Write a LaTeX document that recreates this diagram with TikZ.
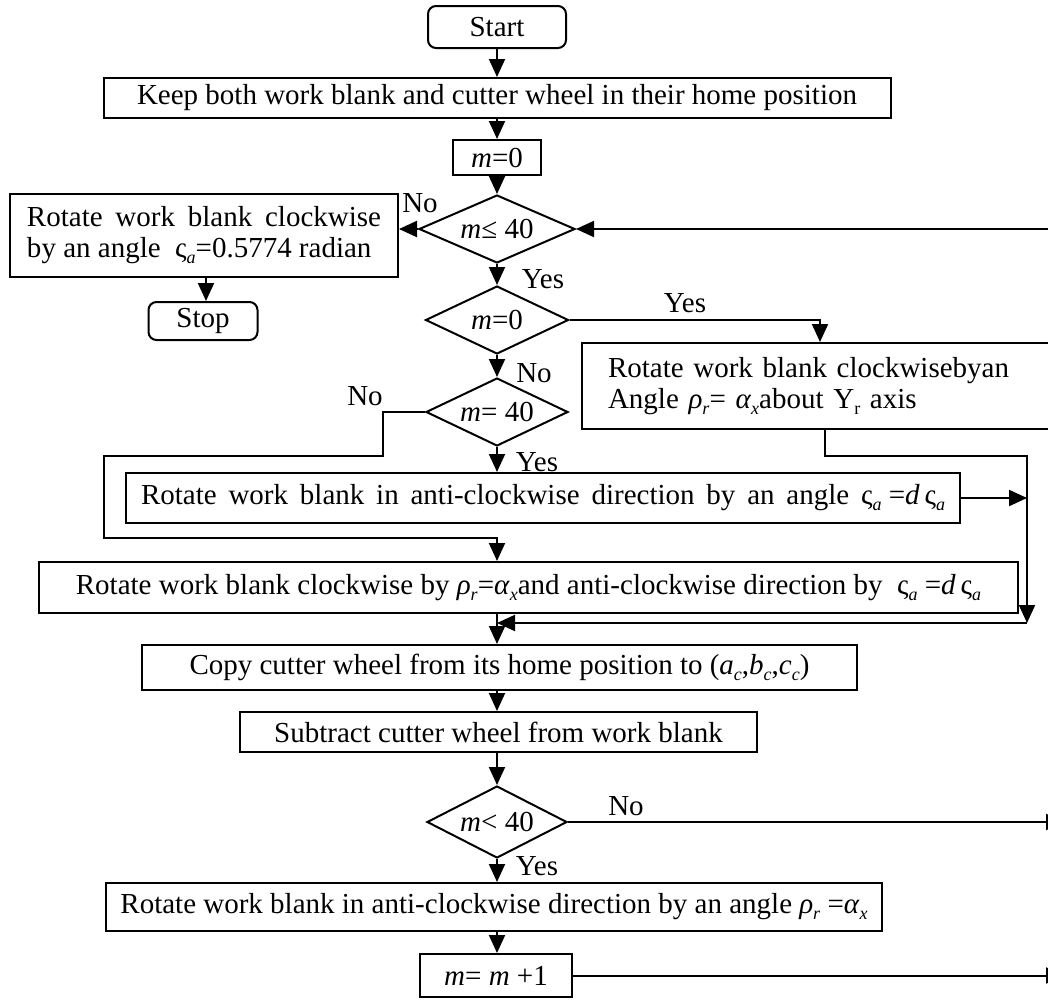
\documentclass[tikz,border=0pt]{standalone}
\usepackage{fontspec}
\setmainfont{Liberation Serif}
\usetikzlibrary{shapes.geometric,arrows.meta,calc}
\newcommand\fsz{\fontsize{29}{31}\selectfont}
\newcommand\lowsub[1]{\raisebox{-0.2em}{\fontsize{18}{18}\selectfont #1}}
\begin{document}
\begin{tikzpicture}[x=1pt,y=-1pt,
  box/.style={draw, line width=2pt, inner sep=0pt, font=\fsz},
  term/.style={box, rounded corners=8pt},
  dec/.style={draw, line width=2pt, diamond, aspect=2.2, inner sep=0pt, font=\fsz},
  arr/.style={line width=2pt, -{Triangle[length=18pt,width=16pt]}},
  lbl/.style={font=\fsz, inner sep=0pt}]
\useasboundingbox (0,0) rectangle (1048,1001);
\clip (0,0) rectangle (1048,1001);

% nodes
\node[term, minimum width=138pt, minimum height=42pt] (start) at (497,27) {Start};
\node[box, minimum width=787pt, minimum height=40pt] (keep) at (497,98) {Keep both work blank and cutter wheel in their home position};
\node[box, minimum width=88pt, minimum height=35pt] (m0) at (497,157.5) {\textit{m}=0};
\node[dec, minimum width=156pt, minimum height=68pt] (d1) at (497,229) {\textit{m}≤ 40};
\node[box, minimum width=388pt, minimum height=83pt, align=left] (left) at (204,235.5)
  {\makebox[354pt][s]{Rotate work blank clockwise}\\by an angle \ ς\lowsub{\textit{a}}=0.5774 radian};
\node[term, minimum width=109pt, minimum height=38pt] (stop) at (203,321) {Stop};
\node[dec, minimum width=143pt, minimum height=68pt] (d2) at (497,320) {\textit{m}=0};
\node[box, anchor=north west, minimum width=490pt, minimum height=86pt, text width=438pt, align=left, inner xsep=26pt] (rbox) at (581,342)
  {Rotate work blank clockwisebyan\\Angle \textit{ρ}\lowsub{\textit{r}}= \textit{α}\lowsub{\textit{x}}about Y\lowsub{r} axis};
\node[dec, minimum width=142pt, minimum height=68pt] (d3) at (497,412) {\textit{m}= 40};
\node[box, minimum width=834pt, minimum height=50pt] (anti) at (543,498)
  {\makebox[804pt][s]{Rotate work blank in anti-clockwise direction by an angle \mbox{ς\lowsub{\textit{a}} =\textit{d}\,ς\lowsub{\textit{a}}}}};
\node[box, minimum width=979pt, minimum height=51pt] (both) at (528.5,587.5)
  {Rotate work blank clockwise by \textit{ρ}\lowsub{\textit{r}}=\textit{α}\lowsub{\textit{x}}and anti-clockwise direction by \ ς\lowsub{\textit{a}} =\textit{d}\,ς\lowsub{\textit{a}}};
\node[box, minimum width=715pt, minimum height=45pt] (copy) at (499.5,667.5)
  {Copy cutter wheel from its home position to (\textit{a}\lowsub{\textit{c}},\textit{b}\lowsub{\textit{c}},\textit{c}\lowsub{\textit{c}})};
\node[box, minimum width=517pt, minimum height=40pt] (sub) at (498.5,732) {Subtract cutter wheel from work blank};
\node[dec, minimum width=140pt, minimum height=72pt] (d4) at (497,822) {\textit{m}< 40};
\node[box, minimum width=776pt, minimum height=48pt] (anti2) at (494,907)
  {Rotate work blank in anti-clockwise direction by an angle \textit{ρ}\lowsub{\textit{r}} =\textit{α}\lowsub{\textit{x}}};
\node[box, minimum width=152pt, minimum height=43pt] (inc) at (496,975.5) {\textit{m}= \textit{m} +1};

% labels
\node[lbl] (no1) at (420,203) {No};
\node[lbl] (yes1) at (543,279) {Yes};
\node[lbl] (yes2) at (685,303) {Yes};
\node[lbl] (no2) at (534,373) {No};
\node[lbl] (no3) at (365,396) {No};
\node[lbl] (yes3) at (537,462) {Yes};
\node[lbl] (no4) at (626,806) {No};
\node[lbl] (yes4) at (537,866) {Yes};

% helper coordinates
\coordinate (ax) at (497,0);
\coordinate (lx) at (206,0);
\coordinate (r1) at (1062,229);
\coordinate (ry) at (820,0);
\coordinate (rx) at (825,0);
\coordinate (c1) at (1027,456);
\coordinate (c2) at (1027,623);
\coordinate (n1) at (383,456);
\coordinate (n2) at (104,538);
\coordinate (r4) at (1064,822);
\coordinate (r5) at (1064,975.5);

% connectors
\draw[arr] (ax |- start.south) -- (ax |- keep.north);
\draw[arr] (ax |- keep.south) -- (ax |- m0.north);
\draw[arr] (ax |- m0.south) -- (d1.north);
\draw[arr] (d1.west) -- (d1.west -| left.east);
\draw[arr] (lx |- left.south) -- (lx |- stop.north);
\draw[arr] (r1) -- (d1.east);
\draw[arr] (d1.south) -- (d2.north);
\draw[arr] (d2.east) -| (ry |- rbox.north);
\draw[arr] (d2.south) -- (d3.north);
\draw[arr] (d3.south) -- (ax |- anti.north);
\draw[arr] (d3.west) -| (n1) -| (n2) -| (ax |- both.north);
\draw[arr] (rx |- rbox.south) |- (c1) -- (c2);
\draw[arr] (anti.east) -- (anti.east -| c1);
\draw[arr] (c2) -- (c2 -| ax);
\draw[arr] (ax |- both.south) -- (ax |- copy.north);
\draw[arr] (ax |- copy.south) -- (ax |- sub.north);
\draw[arr] (ax |- sub.south) -- (d4.north);
\draw[arr] (d4.east) -- (r4);
\draw[arr] (d4.south) -- (ax |- anti2.north);
\draw[arr] (ax |- anti2.south) -- (ax |- inc.north);
\draw[arr] (inc.east) -- (r5);
\end{tikzpicture}
\end{document}
